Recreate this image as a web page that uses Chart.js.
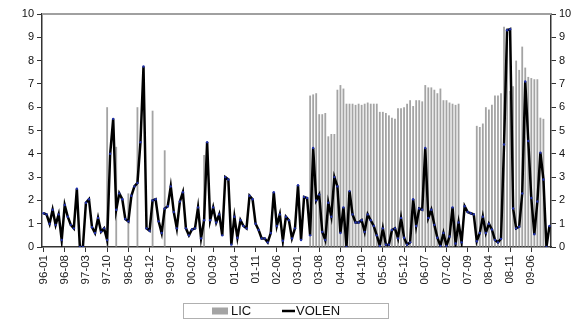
<!DOCTYPE html>
<html><head><meta charset="utf-8">
<script src="https://cdn.jsdelivr.net/npm/chart.js@4.4.1/dist/chart.umd.min.js"></script>
<style>html,body{margin:0;padding:0;background:#fff;}#wrap{width:581px;height:320px;position:relative;}</style>
</head><body><div id="wrap"><canvas id="c" width="581" height="320"></canvas></div>
<script>
// ---- categories (monthly, 96-01 .. 09-12) ----
const years = ['96','97','98','99','00','01','02','03','04','05','06','07','08','09'];
const months = ['01','02','03','04','05','06','07','08','09','10','11','12'];
const categories = [];
for (const y of years) for (const m of months) categories.push(y + '-' + m);

// ---- labelled ticks on the category axis ----
const tickLabels = ['96-01','96-08','97-03','97-10','98-05','98-12','99-07','00-02','00-09','01-04','01-11','02-06',
  '03-01','03-08','04-03','04-10','05-05','05-12','06-07','07-02','07-09','08-04','08-11','09-06'];

// ---- LIC (bars), one value per month, null = no bar ----
const licValues = [
  null,null,null,null,null,null,null,null,null,null,null,null,            // 1996
  null,null,null,null,null,null,null,null,null,6.0,null,null,             // 1997
  4.3,null,null,null,2.3,null,null,6.0,null,null,null,null,               // 1998
  5.85,null,null,null,4.15,null,null,null,null,null,null,null,            // 1999
  null,null,null,null,null,3.95,null,null,null,null,null,null,            // 2000
  null,null,null,null,null,null,null,null,null,null,null,null,            // 2001
  null,null,null,null,null,null,null,null,null,null,null,null,            // 2002
  null,null,null,null,6.5,6.55,6.6,5.7,5.7,5.75,4.75,4.85,                // 2003
  4.85,6.75,6.95,6.8,6.15,6.15,6.15,6.1,6.15,6.1,6.15,6.2,                // 2004
  6.15,6.15,6.15,5.8,5.8,5.75,5.65,5.55,5.5,5.95,5.95,6.0,                // 2005
  6.15,6.3,6.05,6.3,6.3,6.25,6.95,6.85,6.85,6.75,6.6,6.8,                 // 2006
  6.3,6.3,6.2,6.15,6.1,6.15,null,null,null,null,null,5.2,                 // 2007
  5.15,5.3,6.0,5.9,6.1,6.5,6.5,6.6,9.45,9.4,6.7,6.9,                      // 2008
  8.0,7.6,8.6,7.7,7.3,7.25,7.2,7.2,5.55,5.5,null,null                     // 2009
];

// ---- VOLEN (line), one value per month ----
const volenValues = [
  1.45,1.4,1.0,1.6,0.95,1.4,0.3,1.8,1.3,0.95,0.8,2.5,        // 1996
  0.0,0.0,1.9,2.05,0.85,0.6,1.25,0.65,0.8,0.3,4.0,5.5,       // 1997
  1.6,2.3,2.05,1.2,1.1,2.2,2.6,2.75,4.5,7.75,0.8,0.7,        // 1998
  2.0,2.05,1.1,0.6,1.65,1.75,2.6,1.5,0.8,1.95,2.35,0.8,      // 1999
  0.5,0.75,0.8,1.7,0.37,1.15,4.5,1.15,1.7,1.05,1.4,0.5,      // 2000
  3.0,2.9,0.1,1.3,0.4,1.15,0.9,0.8,2.2,2.05,1.0,0.73,        // 2001
  0.37,0.37,0.2,0.6,2.35,0.9,1.4,0.27,1.3,1.15,0.37,0.8,     // 2002
  2.65,0.3,2.15,2.1,0.5,4.25,2.0,2.25,0.65,0.3,1.9,1.3,      // 2003
  3.0,2.6,0.6,1.7,0.0,2.4,1.4,1.05,1.05,1.15,0.65,1.4,       // 2004
  1.15,0.9,0.5,0.05,0.8,0.1,0.1,0.73,0.8,0.37,1.25,0.4,      // 2005
  0.1,0.2,2.05,0.9,1.65,1.6,4.25,1.25,1.6,0.95,0.4,0.05,     // 2006
  0.6,0.05,0.45,1.7,0.15,1.05,0.2,1.75,1.5,1.45,1.4,0.25,    // 2007
  0.6,1.3,0.6,1.0,0.75,0.3,0.2,0.35,4.4,9.3,9.35,1.65,       // 2008
  0.8,0.87,2.3,7.1,4.55,2.1,0.55,1.95,4.05,2.9,0.0,0.9       // 2009
];

const seriesNames = ['LIC', 'VOLEN'];
const FONT = 'Liberation Sans, Arial, sans-serif';

// plot frame top line
const framePlugin = {
  id: 'frameTop',
  afterDraw(chart) {
    const {ctx, chartArea: a} = chart;
    ctx.save();
    ctx.strokeStyle = '#a0a0a0';
    ctx.lineWidth = 2;
    ctx.beginPath();
    ctx.moveTo(a.left, a.top);
    ctx.lineTo(a.right, a.top);
    ctx.stroke();
    ctx.restore();
  }
};

// boxed legend below the axis labels
const legendPlugin = {
  id: 'boxedLegend',
  afterDraw(chart) {
    const {ctx, chartArea: a} = chart;
    const ds = chart.data.datasets;
    const boxLeft = a.left + 141, boxTop = chart.height - 17, boxW = 205, boxH = 15;
    const midY = boxTop + boxH / 2 + 0.5;
    ctx.save();
    ctx.strokeStyle = '#b0b0b0';
    ctx.lineWidth = 1;
    ctx.strokeRect(boxLeft + 0.5, boxTop + 0.5, boxW, boxH);
    // LIC swatch
    ctx.fillStyle = ds[1].backgroundColor;
    ctx.fillRect(boxLeft + 29, midY - 3.5, 16, 7);
    ctx.font = '13px ' + FONT;
    ctx.fillStyle = '#111';
    ctx.textBaseline = 'middle';
    ctx.textAlign = 'left';
    ctx.fillText(ds[1].label, boxLeft + 48, midY + 0.5);
    // VOLEN swatch
    ctx.strokeStyle = ds[0].borderColor;
    ctx.lineWidth = 2.5;
    ctx.beginPath();
    ctx.moveTo(boxLeft + 99, midY);
    ctx.lineTo(boxLeft + 112, midY);
    ctx.stroke();
    ctx.fillText(ds[0].label, boxLeft + 113, midY + 0.5);
    ctx.restore();
  }
};

const yTickCommon = {
  min: 0, max: 10,
  ticks: {stepSize: 1, color: '#111', font: {family: FONT, size: 11}, padding: 3},
  grid: {drawOnChartArea: false, tickLength: 5, color: '#333', lineWidth: 1},
  border: {color: '#333', width: 1.5}
};

new Chart(document.getElementById('c'), {
  data: {
    labels: categories,
    datasets: [
      {
        type: 'line', label: seriesNames[1], data: volenValues, yAxisID: 'y1', order: 0,
        borderColor: '#000', borderWidth: 2.5, tension: 0,
        pointRadius: 1.2, pointBackgroundColor: '#2030a8', pointBorderWidth: 0, pointHoverRadius: 1.2
      },
      {
        type: 'bar', label: seriesNames[0], data: licValues, yAxisID: 'y', order: 1,
        backgroundColor: '#a4a4a4', borderWidth: 0, barPercentage: 0.6, categoryPercentage: 1.0
      }
    ]
  },
  options: {
    responsive: false,
    animation: false,
    devicePixelRatio: 1,
    layout: {padding: {top: 14, left: 0, right: 0, bottom: 0}},
    plugins: {legend: {display: false}, tooltip: {enabled: false}},
    scales: {
      x: {
        ticks: {
          autoSkip: false, minRotation: 90, maxRotation: 90, padding: 3, color: '#222',
          font: {family: FONT, size: 11.5},
          callback: function(v, i) { const l = categories[i]; return tickLabels.includes(l) ? l : ''; }
        },
        grid: {
          offset: false, drawOnChartArea: false, tickLength: 5,
          color: (c) => tickLabels.includes(categories[c.index]) ? '#333' : 'rgba(0,0,0,0)'
        },
        border: {color: '#333', width: 1.5},
        afterFit(s) { s.height = 73; }
      },
      y: Object.assign({position: 'left', afterFit(s) { s.width = 42; }}, yTickCommon),
      y1: Object.assign({position: 'right', afterFit(s) { s.width = 30; }}, yTickCommon)
    }
  },
  plugins: [framePlugin, legendPlugin]
});
</script>
</body></html>
